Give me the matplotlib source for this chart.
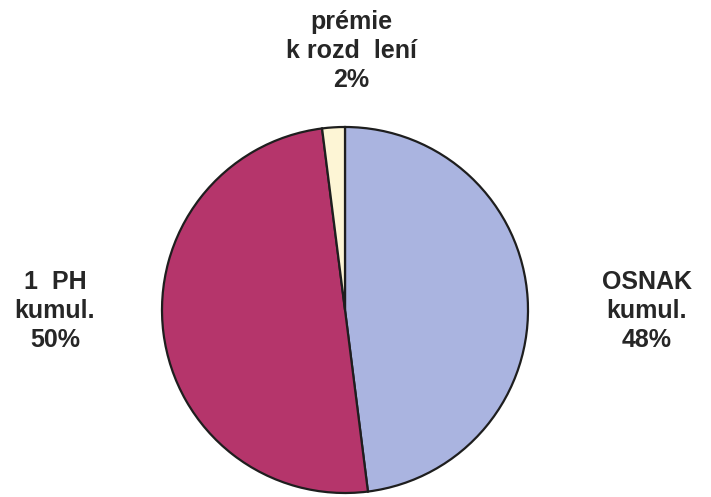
import matplotlib
matplotlib.use("Agg")
import matplotlib.pyplot as plt

categories = ["OSNAK\nkumul.", "1  PH\nkumul.", "prémie\nk rozd  lení"]
values = [48, 50, 2]
colors = ["#aab4e0", "#b5356b", "#fdf5d5"]

fig = plt.figure(figsize=(7.11, 4.97), dpi=100)
ax = fig.add_axes([0, 0, 1, 1])
ax.axis("off")

wedges, _ = ax.pie(values, colors=colors, startangle=90, counterclock=False,
                   center=(345, 187), radius=183,
                   wedgeprops=dict(edgecolor="#1e1e1e", linewidth=1.6))
ax.set_xlim(0, 711)
ax.set_ylim(0, 497)
ax.set_aspect("equal")

label_pos = [(647, 186), (55, 186), (351, 446)]
for cat, v, (x, y) in zip(categories, values, label_pos):
    ax.text(x, y, f"{cat}\n{v}%", ha="center", va="center",
            fontsize=18, fontweight="bold", color="#262626",
            family="Liberation Sans", linespacing=1.26)

fig.savefig("out.png", dpi=100)
